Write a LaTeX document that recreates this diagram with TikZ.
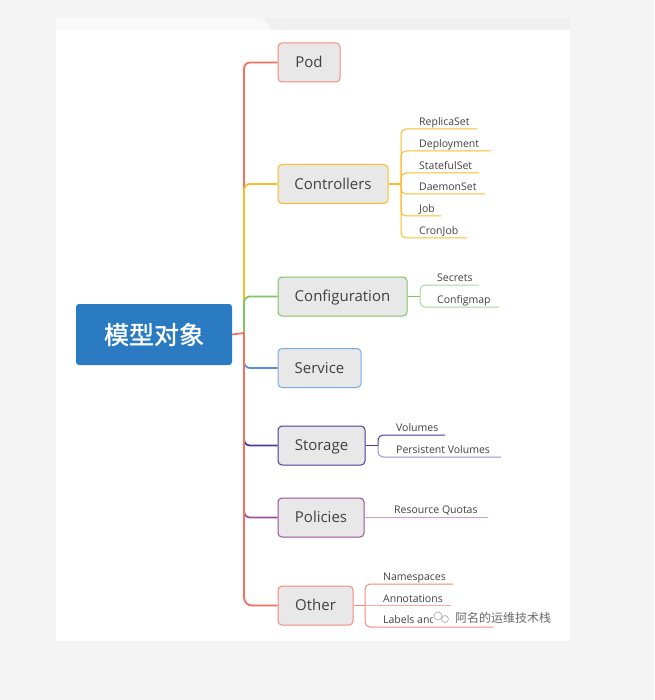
\documentclass[tikz,border=0pt]{standalone}
\usepackage{fontspec}
\setmainfont{Open Sans}
\newfontfamily\cjk{Noto Sans CJK SC}
\newfontfamily\cjkb[FakeBold=1.2]{Noto Sans CJK SC}
\definecolor{bgg}{HTML}{F4F4F4}
\definecolor{strip}{HTML}{F0F0F0}
\definecolor{rootc}{HTML}{2B7BC3}
\definecolor{boxf}{HTML}{E8E8E8}
\definecolor{txt}{HTML}{404040}
\definecolor{cred}{HTML}{F4705F}
\definecolor{cpod}{HTML}{F48A7E}
\definecolor{cyel}{HTML}{F9BC2B}
\definecolor{cgrn}{HTML}{7DC462}
\definecolor{cgrnl}{HTML}{A9D89A}
\definecolor{cblu}{HTML}{5590D6}
\definecolor{cblub}{HTML}{7AABE6}
\definecolor{cpur}{HTML}{4A3A9C}
\definecolor{cpurl}{HTML}{9A90CC}
\definecolor{cpol}{HTML}{9E4D9A}
\definecolor{cpoll}{HTML}{C9A0C9}
\definecolor{coth}{HTML}{F48A7E}
\definecolor{wm}{HTML}{6A6A6A}
\tikzset{
  box/.style={draw=#1, fill=boxf, rounded corners=4pt, line width=1pt, text=txt,
    font=\fontsize{15}{15}\selectfont, text height=10.7pt, text depth=0pt,
    minimum height=39pt, inner sep=0pt},
  sub/.style={text=txt, font=\fontsize{10.5}{10.5}\selectfont, inner sep=0pt, anchor=base west},
  br/.style={draw=#1, line width=1.8pt, rounded corners=6pt},
  sl/.style={draw=#1, line width=1pt, rounded corners=5pt},
}
\begin{document}
\begin{tikzpicture}[x=1pt,y=-1pt]
\fill[bgg] (0,0) rectangle (654,700);
\useasboundingbox (0,0) rectangle (654,700);
\fill[strip] (56,18) rectangle (570,30);
\fill[white!60!strip] (56,18) -- (262,18) -- (272,30) -- (56,30) -- cycle;
\fill[white] (56,30) rectangle (570,641);

% root
\node[fill=rootc, rounded corners=3pt, minimum width=156pt, minimum height=61pt, inner sep=0pt,
  text=white, font=\cjkb\fontsize{25}{25}\selectfont] (root) at (154,334.5) {模型对象};
\coordinate (J) at (244,333);

% child boxes
\node[box=cpod, minimum width=62pt] (pod) at (309,62.5) {Pod};
\node[box=cyel, minimum width=110pt] (ctrl) at (333,184) {Controllers};
\node[box=cgrn, minimum width=129pt] (conf) at (342.5,296.5) {Configuration};
\node[box=cblub, minimum width=83pt] (svc) at (319.5,368) {Service};
\node[box=cpur, minimum width=87pt] (stor) at (321.5,445.5) {Storage};
\node[box=cpol, minimum width=86pt] (pol) at (321,517.5) {Policies};
\node[box=coth, minimum width=75pt] (oth) at (315.5,605.5) {Other};

% trunk branches
\draw[br=cred] (J) |- (pod.west);
\draw[br=cyel] (J) |- (ctrl.west);
\draw[br=cgrn] (J) |- (conf.west);
\draw[br=cpol] (J) |- (pol.west);
\draw[br=cpur] (J) |- (stor.west);
\draw[br=cblu] (J) |- (svc.west);
\draw[br=cred, rounded corners=8pt] (J) |- (oth.west);
\draw[cred, line width=1.8pt] (root.east) -- (J);

% Controllers items
\coordinate (cb) at (401,184);
\draw[cyel, line width=1.2pt] (ctrl.east) -- (cb);
\coordinate (e1) at (477,129);
\coordinate (e2) at (491,151);
\coordinate (e3) at (479,173);
\coordinate (e4) at (485,194);
\coordinate (e5) at (441,216);
\coordinate (e6) at (467,238);
\foreach \e in {e1,e2,e3,e4,e5,e6} \draw[sl=cyel] (cb) |- (\e);
\node[sub] (t1) at (419,125.5) {ReplicaSet};
\node[sub] (t2) at (419,147.5) {Deployment};
\node[sub] (t3) at (419,169.5) {StatefulSet};
\node[sub] (t4) at (419,190.5) {DaemonSet};
\node[sub] (t5) at (419,212.5) {Job};
\node[sub] (t6) at (419,234.5) {CronJob};

% Configuration items
\coordinate (gb) at (420,296.5);
\draw[cgrn, line width=1.2pt] (conf.east) -- (gb);
\coordinate (g1) at (479,285);
\coordinate (g2) at (499,307);
\draw[sl=cgrnl] (gb) |- (g1);
\draw[sl=cgrnl] (gb) |- (g2);
\node[sub] (s1) at (437,281.5) {Secrets};
\node[sub] (s2) at (437,303.5) {Configmap};

% Storage items
\coordinate (pb) at (378,445.5);
\draw[cpur, line width=1.2pt] (stor.east) -- (pb);
\coordinate (p1) at (445,435);
\coordinate (p2) at (501,457);
\draw[sl=cpur] (pb) |- (p1);
\draw[sl=cpurl] (pb) |- (p2);
\node[sub] (v1) at (396,431.5) {Volumes};
\node[sub] (v2) at (396,453.5) {Persistent Volumes};

% Policies item
\coordinate (q1) at (488,517.5);
\draw[cpoll, line width=1pt] (pol.east) -- (q1);
\node[sub] (r1) at (394,513.5) {Resource Quotas};

% Other items
\coordinate (ob) at (365,605.5);
\draw[coth, line width=1.2pt] (oth.east) -- (ob);
\coordinate (o1) at (453,584);
\coordinate (o2) at (451,605.5);
\coordinate (o3) at (493,627);
\draw[sl=coth] (ob) |- (o1);
\draw[coth!70, line width=1pt] (ob) -- (o2);
\draw[sl=coth] (ob) |- (o3);
\node[sub] (n1) at (383,580.5) {Namespaces};
\node[sub] (n2) at (383,602) {Annotations};
\node[sub] (n3) at (383,623.5) {Labels and};

% watermark
\fill[white] (433,609) -- (556,609) -- (556,625.5) -- (433,625.5) -- cycle;
\node[text=wm, font=\cjk\fontsize{12}{12}\selectfont, inner sep=0pt, anchor=west] (wmk) at (455,617.5) {阿名的运维技术栈};
\draw[wm!50, line width=0.8pt] (438,616) circle (4pt);
\draw[wm!50, line width=0.8pt] (445,619) circle (3.5pt);
\end{tikzpicture}
\end{document}
